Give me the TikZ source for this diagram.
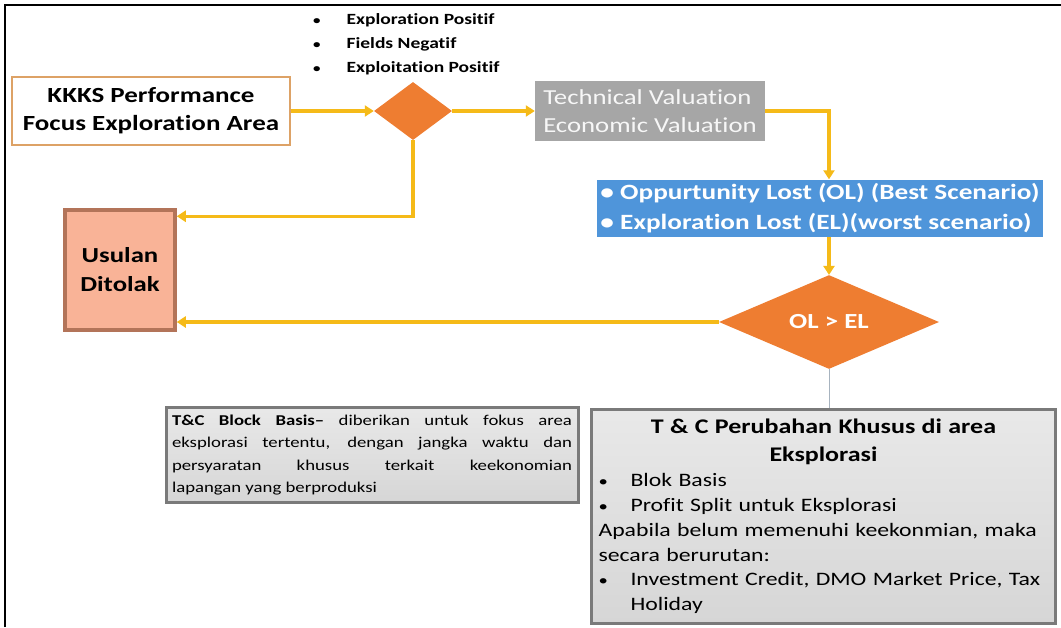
\documentclass[tikz,border=0pt]{standalone}
\usepackage{fontspec}
\setmainfont{Carlito}[FakeStretch=1.25, Ligatures=NoCommon]
\usetikzlibrary{positioning,shapes.geometric,arrows.meta}

\definecolor{flowgold}{HTML}{F5BA18}
\definecolor{decorange}{HTML}{EE7D31}
\definecolor{techgray}{HTML}{A6A6A6}
\definecolor{scenblue}{HTML}{4F95DA}
\definecolor{rejectfill}{HTML}{F9B397}
\definecolor{rejectedge}{HTML}{B37459}
\definecolor{notefill}{HTML}{D6D6D6}
\definecolor{noteedge}{HTML}{7A7A7A}
\definecolor{startedge}{HTML}{DDA266}
\definecolor{linkgray}{HTML}{A7B3BF}

\newcommand{\pxfont}[2]{\fontsize{#1}{#2}\selectfont}
\newcommand{\smallbul}{{\fontsize{12}{12}\selectfont\textbullet}}
\newcommand{\midbul}{{\fontsize{15}{15}\selectfont\textbullet}}
\newcommand{\nohyph}{\hyphenpenalty=10000\exhyphenpenalty=10000\relax}

\tikzset{
  flow/.style={draw=flowgold, line width=3.5pt, -{Triangle[length=9pt,width=11pt]}},
  link/.style={draw=linkgray, line width=1pt},
  startbox/.style={draw=startedge, line width=1.5pt, fill=white, align=center, font=\pxfont{21.6}{28}\bfseries},
  decision/.style={diamond, fill=decorange, inner sep=0pt},
  techbox/.style={fill=techgray, text=white!94!gray, align=left, font=\pxfont{21.4}{28}},
  scenbox/.style={fill=scenblue, text=white, align=left, font=\pxfont{21.8}{30}\bfseries},
  rejectbox/.style={draw=rejectedge, line width=3.5pt, fill=rejectfill, align=center, font=\pxfont{21.4}{29}\bfseries},
  notebox/.style={draw=noteedge, line width=3pt, top color=notefill!55!white, bottom color=notefill, inner sep=8pt},
}

\begin{document}
\begin{tikzpicture}[x=1pt, y=-1pt]
  \useasboundingbox (0,0) rectangle (1061,627);
  % Frame
  \draw[line width=2pt] (5,627) -- (5,5) -- (1061,5);

  % Define nodes
  \node[startbox, minimum width=278pt, minimum height=68pt] (kkks) at (151,111) {KKKS Performance\\Focus Exploration Area};
  \node[decision, minimum width=78pt, minimum height=58pt] (dec1) at (413,111) {};
  \node[font=\pxfont{15.6}{24}\bfseries, anchor=base west, inner sep=0pt] (crit) at (313,72)
    {\begin{tabular}[b]{@{}l@{\hspace{26pt}}l@{}}
       \smallbul & Exploration Positif\\
       \smallbul & Fields Negatif\\
       \smallbul & Exploitation Positif
     \end{tabular}};
  \node[techbox, minimum width=230pt, minimum height=60pt] (tech) at (650,111) {Technical Valuation\\Economic Valuation};
  \node[scenbox, minimum width=446pt, minimum height=57pt] (scen) at (820,208)
    {\textbullet\ Oppurtunity Lost (OL) (Best Scenario)\\\textbullet\ Exploration Lost (EL)(worst scenario)};
  \node[decision, minimum width=220pt, minimum height=90pt, text=white, font=\pxfont{21.5}{24}\bfseries] (dec2) at (829,322) {OL > EL};
  \node[rejectbox, minimum width=110pt, minimum height=120pt] (usulan) at (120,270) {Usulan\\Ditolak};
  \node[notebox, inner sep=6pt, text width=400pt, align=justify, font=\pxfont{15}{22.3}, minimum height=95pt] (tcblock) at (372,455)
    {\nohyph\textbf{T\&C Block Basis–} diberikan untuk fokus area\linebreak eksplorasi tertentu, dengan jangka waktu dan\linebreak persyaratan khusus terkait keekonomian\linebreak lapangan yang berproduksi};
  \node[notebox, text width=450pt, align=left, inner sep=7pt, minimum height=214pt, anchor=north west, font=\pxfont{19}{24.8}] (tcbig) at (590,408)
    {{\centering\bfseries\pxfont{20.8}{28}T \& C Perubahan Khusus di area\\Eksplorasi\par}
     \makebox[32pt][l]{\midbul}Blok Basis\\
     \makebox[32pt][l]{\midbul}Profit Split untuk Eksplorasi\\
     Apabila belum memenuhi keekonmian, maka\\
     secara berurutan:\\
     \makebox[32pt][l]{\midbul}Investment Credit, DMO Market Price, Tax\\
     \hspace*{32pt}Holiday};

  % Connect the nodes
  \draw[flow] (kkks) -- (dec1);
  \draw[flow] (dec1) -- (tech);
  \draw[flow] (tech.east) -| (dec2.north |- scen.north);
  \draw[flow] (dec2.north |- scen.south) -- (dec2.north);
  \draw[flow] (dec1.south) |- ([yshift=-8pt]usulan.north east);
  \draw[flow] (dec2.west) -- (dec2.west -| usulan.east);
  \draw[link] (dec2.south) -- (dec2.south |- tcbig.north);
\end{tikzpicture}
\end{document}
